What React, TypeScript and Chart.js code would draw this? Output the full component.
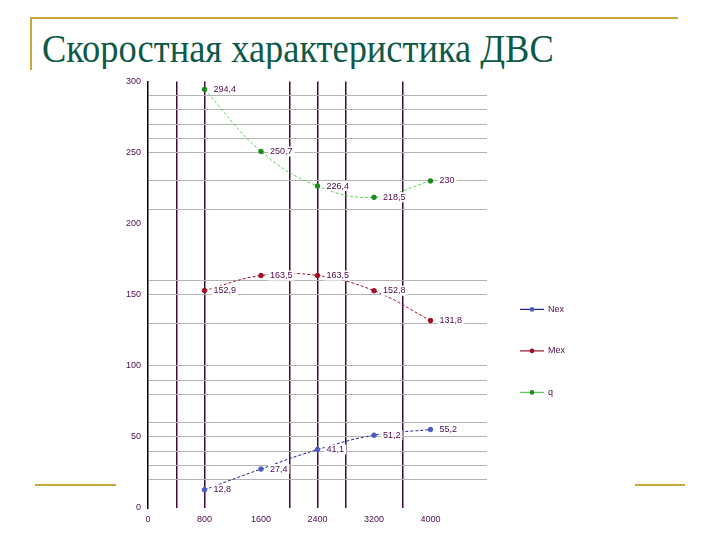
import React, { useEffect, useRef } from 'react';
import { Chart, registerables } from 'chart.js';

Chart.register(...registerables);

// engine speed, rpm
const rpm = [800, 1600, 2400, 3200, 4000];
// series values
const nex = [12.8, 27.4, 41.1, 51.2, 55.2];
const mex = [152.9, 163.5, 163.5, 152.8, 131.8];
const q = [294.4, 250.7, 226.4, 218.5, 230];
const seriesNames = ['Nex', 'Mex', 'q'];

// grid lines that survive in the picture
const visibleXGrid = [400, 800, 2000, 2400, 2800, 3600];
const visibleYGrid = [20, 30, 40, 50, 60, 80, 90, 100, 130, 150, 160, 210, 230, 250, 260, 270, 280, 290];

const labelColor = '#4a0a4a';
const tickFont = { family: '"Liberation Sans", Arial, sans-serif', size: 9 };

const fmt = (v: number) => String(v).replace('.', ',');

const pointLabels = {
  id: 'pointLabels',
  afterDatasetsDraw(chart: Chart) {
    const ctx = chart.ctx;
    ctx.save();
    ctx.font = '9px "Liberation Sans", Arial, sans-serif';
    ctx.textBaseline = 'middle';
    chart.data.datasets.forEach((ds, i) => {
      const meta = chart.getDatasetMeta(i);
      meta.data.forEach((pt, j) => {
        const text = fmt((ds.data[j] as { y: number }).y);
        const w = ctx.measureText(text).width;
        const x = pt.x + 9;
        ctx.fillStyle = '#ffffff';
        ctx.fillRect(x - 2, pt.y - 5, w + 4, 10);
        ctx.fillStyle = labelColor;
        ctx.fillText(text, x, pt.y);
      });
    });
    ctx.restore();
  },
};

const sideLegend = {
  id: 'sideLegend',
  afterDraw(chart: Chart) {
    const ctx = chart.ctx;
    const { right, top } = chart.chartArea;
    ctx.save();
    ctx.font = '9px "Liberation Sans", Arial, sans-serif';
    ctx.textBaseline = 'middle';
    chart.data.datasets.forEach((ds, i) => {
      const y = top + 228 + i * 41.5;
      const x0 = right + 33;
      ctx.strokeStyle = ds.borderColor as string;
      ctx.lineWidth = 1.2;
      ctx.beginPath();
      ctx.moveTo(x0, y);
      ctx.lineTo(x0 + 24, y);
      ctx.stroke();
      ctx.fillStyle = ds.pointBackgroundColor as string;
      ctx.beginPath();
      ctx.arc(x0 + 12, y, 2.3, 0, Math.PI * 2);
      ctx.fill();
      ctx.fillStyle = labelColor;
      ctx.fillText(seriesNames[i], x0 + 28, y);
    });
    ctx.restore();
  },
};

const SpeedChart: React.FC = () => {
  const chartRef = useRef<HTMLCanvasElement>(null);
  const chartInstance = useRef<Chart | null>(null);

  useEffect(() => {
    if (!chartRef.current) return;
    if (chartInstance.current) chartInstance.current.destroy();

    const toPoints = (vals: number[]) => rpm.map((x, i) => ({ x, y: vals[i] }));
    const line = (color: string, pointColor: string) => ({
      borderColor: color,
      backgroundColor: pointColor,
      pointBackgroundColor: pointColor,
      pointBorderColor: pointColor,
      borderWidth: 1,
      borderDash: [3, 2],
      pointRadius: 2.3,
      tension: 0.4,
      fill: false,
    });

    chartInstance.current = new Chart(chartRef.current, {
      type: 'line',
      data: {
        datasets: [
          { label: 'Nex', data: toPoints(nex), ...line('#1e1e96', '#4a5ac8') },
          { label: 'Mex', data: toPoints(mex), ...line('#a0102a', '#a0102a') },
          { label: 'q', data: toPoints(q), ...line('#5ad25a', '#168c16') },
        ],
      },
      options: {
        animation: false,
        responsive: false,
        maintainAspectRatio: false,
        layout: { padding: { left: 0, right: 148, top: 11, bottom: 10 } },
        plugins: {
          legend: { display: false },
          tooltip: { enabled: false },
        },
        scales: {
          x: {
            type: 'linear',
            min: 0,
            max: 4800,
            afterFit: (scale) => { scale.height = 22; },
            ticks: {
              stepSize: 400,
              autoSkip: false,
              maxRotation: 0,
              padding: 6,
              color: labelColor,
              font: tickFont,
              callback: (v) => (Number(v) % 800 === 0 && Number(v) !== 4800 ? String(v) : ''),
            },
            grid: {
              drawTicks: false,
              lineWidth: 1.5,
              color: (c) => (visibleXGrid.includes(c.tick?.value) ? '#3c0a3c' : 'rgba(0,0,0,0)'),
            },
            border: { display: false },
          },
          y: {
            min: 0,
            max: 300,
            afterFit: (scale) => { scale.width = 32; },
            ticks: {
              stepSize: 10,
              autoSkip: false,
              padding: 7,
              color: labelColor,
              font: tickFont,
              callback: (v) => (Number(v) % 50 === 0 ? String(v) : ''),
            },
            grid: {
              drawTicks: false,
              lineWidth: 1,
              color: (c) => (visibleYGrid.includes(c.tick?.value) ? '#b4b4b4' : 'rgba(0,0,0,0)'),
            },
            border: { display: true, color: '#000000', width: 1.5 },
          },
        },
      },
      plugins: [pointLabels, sideLegend],
    });

    return () => {
      if (chartInstance.current) {
        chartInstance.current.destroy();
        chartInstance.current = null;
      }
    };
  }, []);

  return <canvas ref={chartRef} width={519} height={471} style={{ width: 519, height: 471 }} />;
};

const gold = '#c8a83a';

export default function App() {
  return (
    <div style={{ position: 'fixed', left: 0, top: 0, width: 720, height: 540, background: '#fff', overflow: 'hidden' }}>
      <div style={{ position: 'absolute', left: 30, top: 16.5, width: 648, height: 2, background: gold }} />
      <div style={{ position: 'absolute', left: 29.5, top: 17, width: 2, height: 53, background: gold }} />
      <div style={{ position: 'absolute', left: 42, top: 0, width: 640, height: 69, overflow: 'hidden' }}>
        <div
          style={{
            position: 'absolute',
            left: 0,
            top: 28.5,
            whiteSpace: 'nowrap',
            fontFamily: '"Liberation Serif", "Times New Roman", serif',
            fontSize: 40,
            lineHeight: 1,
            color: '#0e5a48',
            transform: 'scaleX(0.91)',
            transformOrigin: 'left top',
          }}
        >
          Скоростная характеристика ДВС
        </div>
      </div>
      <div style={{ position: 'absolute', left: 35, top: 484, width: 81, height: 2, background: gold }} />
      <div style={{ position: 'absolute', left: 635, top: 484, width: 50, height: 2, background: gold }} />
      <div style={{ position: 'absolute', left: 116, top: 69, width: 519, height: 471, background: '#fff' }}>
        <SpeedChart />
      </div>
    </div>
  );
}
